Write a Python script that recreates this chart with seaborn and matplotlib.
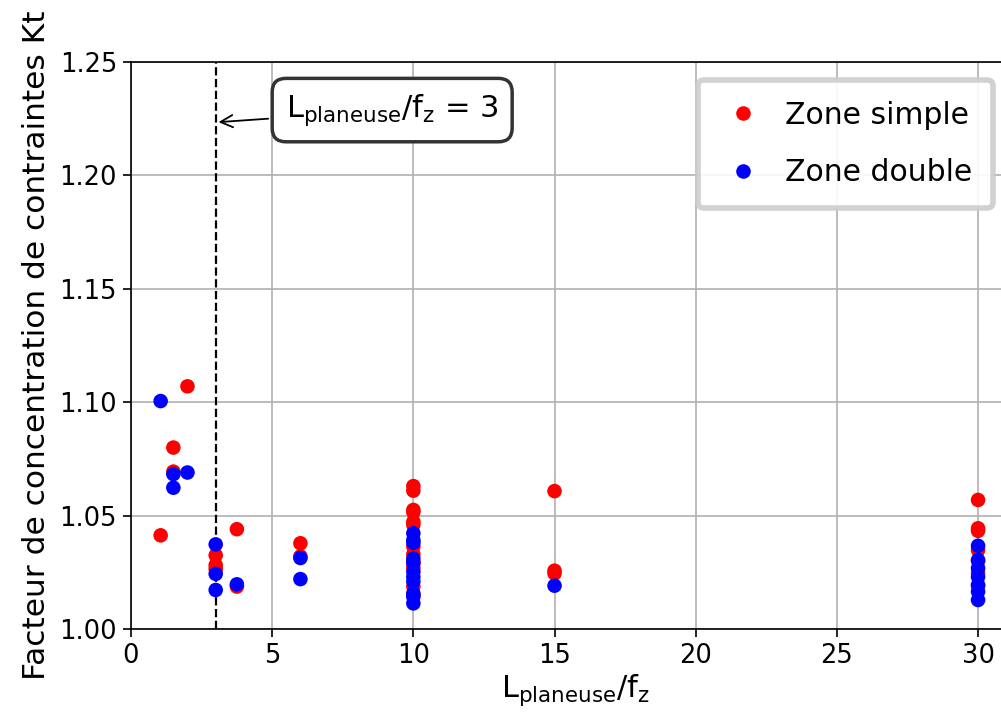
import pandas as pd
import matplotlib
matplotlib.use("Agg")
import matplotlib.pyplot as plt
import seaborn as sns

# Zone simple (rouge)
x_simple = [1.05, 1.5, 1.5, 2.0, 3, 3, 3, 3.75, 3.75, 6, 6,
            10, 10, 10, 10, 10, 10, 10, 10, 10, 10, 10, 10,
            15, 15, 15,
            30, 30, 30, 30, 30, 30, 30]
kt_simple = [1.0413, 1.080, 1.0694, 1.107, 1.0325, 1.0282, 1.0265, 1.044, 1.0187, 1.0378, 1.032,
             1.063, 1.061, 1.0525, 1.0515, 1.0473, 1.0459, 1.0363, 1.033, 1.0295, 1.027, 1.0187, 1.0150,
             1.0608, 1.0257, 1.0245,
             1.0569, 1.0444, 1.0433, 1.0348, 1.0300, 1.0247, 1.0190]

# Zone double (bleu)
x_double = [1.05, 1.5, 1.5, 2.0, 3, 3, 3, 3.75, 6, 6,
            10, 10, 10, 10, 10, 10, 10, 10, 10, 10, 10,
            15,
            30, 30, 30, 30, 30, 30, 30]
kt_double = [1.1005, 1.0683, 1.0623, 1.069, 1.0373, 1.0243, 1.0172, 1.0197, 1.0313, 1.022,
             1.0422, 1.0392, 1.038, 1.031, 1.029, 1.0253, 1.023, 1.0209, 1.0157, 1.0142, 1.0113,
             1.0191,
             1.0367, 1.0304, 1.0268, 1.023, 1.0194, 1.0165, 1.0128]

zones = ["Zone simple", "Zone double"]
couleurs = {"Zone simple": "red", "Zone double": "blue"}

df = pd.concat([
    pd.DataFrame({"ratio": x_simple, "kt": kt_simple, "zone": zones[0]}),
    pd.DataFrame({"ratio": x_double, "kt": kt_double, "zone": zones[1]}),
], ignore_index=True)

fig = plt.figure(figsize=(10.01, 7.16), dpi=100)
ax = fig.add_axes([131 / 1001, 87 / 716, (1019 - 131) / 1001, 567 / 716])

sns.scatterplot(data=df, x="ratio", y="kt", hue="zone", palette=couleurs,
                hue_order=zones, s=110, edgecolor="none", ax=ax, zorder=3)

ax.axvline(3, color="black", linestyle="--", linewidth=1.6, zorder=2)
ax.annotate(r"L$_{\mathrm{planeuse}}$/f$_{\mathrm{z}}$ = 3", xy=(3, 1.2234), xytext=(9.25, 1.2288),
            fontsize=22, ha="center", va="center",
            bbox=dict(boxstyle="round,pad=0.45", fc="white", ec="#333333", lw=2.5),
            arrowprops=dict(arrowstyle="->", color="black", lw=1.3), zorder=5)

ax.set_xlim(0, 31.45)
ax.set_ylim(1.0, 1.25)
ax.set_yticks([1.00, 1.05, 1.10, 1.15, 1.20, 1.25])
ax.set_xticks([0, 5, 10, 15, 20, 25, 30])
ax.grid(True, color="#b0b0b0", linewidth=1.2, zorder=0)
ax.set_axisbelow(True)
ax.tick_params(labelsize=18.5, length=6, width=1.2, pad=4)
for sp in ax.spines.values():
    sp.set_linewidth(1.2)
ax.set_xlabel(r"L$_{\mathrm{planeuse}}$/f$_{\mathrm{z}}$", fontsize=22, labelpad=2)
ax.set_ylabel("Facteur de concentration de contraintes Kt", fontsize=22.5, labelpad=6)

leg = ax.legend(loc="upper right", bbox_to_anchor=(993 / 1001, 1 - 80 / 716),
                bbox_transform=fig.transFigure, borderaxespad=0, fontsize=21.5,
                frameon=True, borderpad=0.7, labelspacing=0.95,
                handlelength=1.6, handletextpad=0.6)
leg.get_frame().set_edgecolor("#cccccc")
leg.get_frame().set_linewidth(4)
leg.get_frame().set_alpha(0.9)

fig.savefig("out.png", dpi=100)
